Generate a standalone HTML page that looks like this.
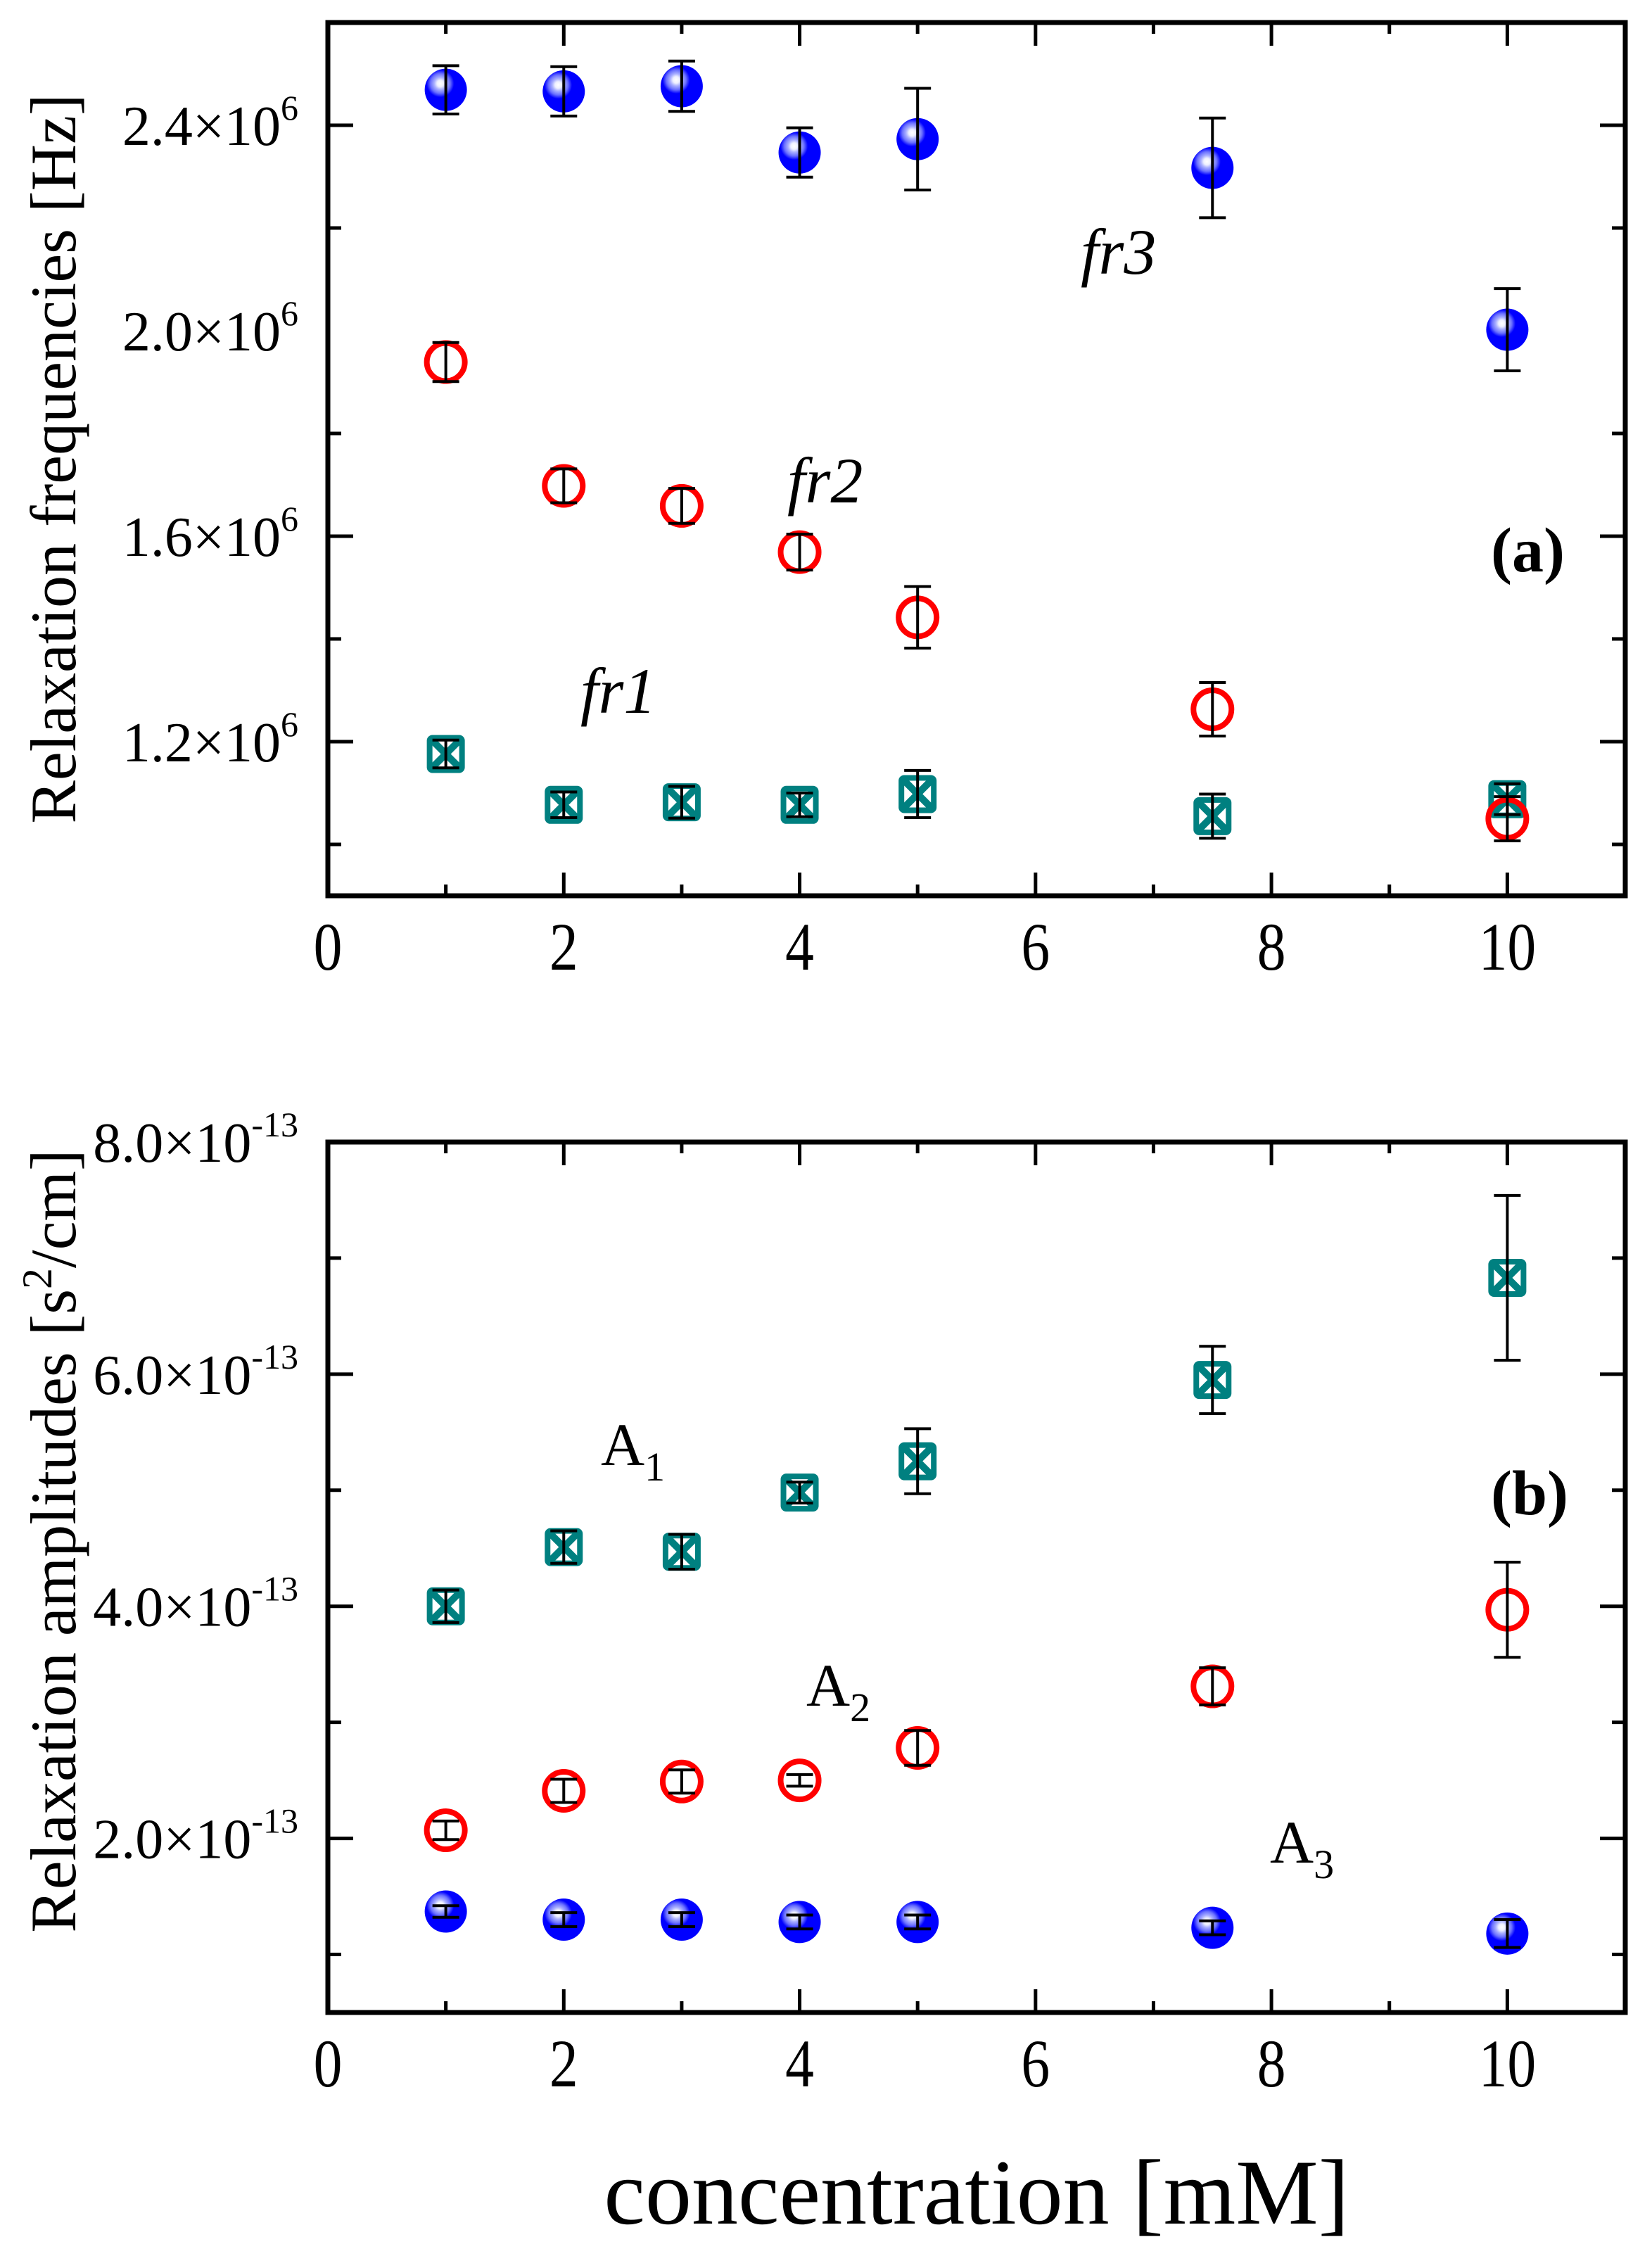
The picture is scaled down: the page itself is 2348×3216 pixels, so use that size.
<!DOCTYPE html>
<html><head><meta charset="utf-8"><style>
html,body{margin:0;padding:0;background:#fff;}
svg{display:block;font-family:"Liberation Serif",serif;}
</style></head><body>
<svg id="chart" width="2348" height="3216" viewBox="0 0 2348 3216" xmlns="http://www.w3.org/2000/svg">
<defs>
<radialGradient id="sph" cx="0.37" cy="0.35" r="0.65" fx="0.37" fy="0.35">
<stop offset="0" stop-color="#ffffff"/>
<stop offset="0.12" stop-color="#eef0ff"/>
<stop offset="0.22" stop-color="#aab0ff"/>
<stop offset="0.36" stop-color="#6a70ff"/>
<stop offset="0.5" stop-color="#0000ff"/>
<stop offset="1" stop-color="#0000ff"/>
</radialGradient>
</defs>
<g id="root"></g>
<text x="1388" y="3160" font-size="132" text-anchor="middle">concentration [mM]</text>
</svg>
<script>
const xCats = [1, 2, 3, 4, 5, 7.5, 10];
const xTicks = [0, 2, 4, 6, 8, 10];
// Panel (a): relaxation frequencies (units of 1e6 Hz)
const fr3 = [2.469, 2.466, 2.476, 2.347, 2.373, 2.317, 2.002];
const fr3Err = [0.047, 0.048, 0.049, 0.048, 0.099, 0.097, 0.080];
const fr2 = [1.939, 1.698, 1.659, 1.569, 1.442, 1.263, 1.050];
const fr2Err = [0.038, 0.033, 0.034, 0.035, 0.060, 0.052, 0.043];
const fr1 = [1.176, 1.077, 1.082, 1.077, 1.098, 1.055, 1.088];
const fr1Err = [0.027, 0.025, 0.031, 0.023, 0.046, 0.043, 0.030];
const aTicks = [1.2, 1.6, 2.0, 2.4];
const aTickLabels = ["1.2×10", "1.6×10", "2.0×10", "2.4×10"];
const aTickExp = "6";
// Panel (b): relaxation amplitudes (units of 1e-13 s^2/cm)
const A1 = [4.00, 4.51, 4.47, 4.98, 5.25, 5.95, 6.83];
const A1Err = [0.14, 0.14, 0.15, 0.09, 0.28, 0.29, 0.71];
const A2 = [2.07, 2.41, 2.49, 2.50, 2.78, 3.31, 3.97];
const A2Err = [0.08, 0.10, 0.10, 0.05, 0.15, 0.16, 0.41];
const A3 = [1.37, 1.30, 1.30, 1.28, 1.28, 1.23, 1.18];
const A3Err = [0.05, 0.06, 0.06, 0.06, 0.06, 0.06, 0.12];
const bTicks = [2, 4, 6, 8];
const bTickLabels = ["2.0×10", "4.0×10", "6.0×10", "8.0×10"];
const bTickExp = "-13";

const NS = "http://www.w3.org/2000/svg";
const root = document.getElementById('root');
function mk(tag, attrs, parent) {
  const e = document.createElementNS(NS, tag);
  for (const k in attrs) e.setAttribute(k, attrs[k]);
  (parent || root).appendChild(e);
  return e;
}
const L = 466, R = 2310;
const xMin = 0, xMax = 11;
function xs(v) { return L + (v - xMin) / (xMax - xMin) * (R - L); }

function panel(p) {
  const g = mk('g', {});
  
  
  const ys = v => p.bot - (v - p.min) / (p.max - p.min) * (p.bot - p.top);
  const fr = mk('rect', {x: L, y: p.top, width: R - L, height: p.bot - p.top, fill: 'none', stroke: '#000', 'stroke-width': 7}, g);
  
  
  for (let v = 0; v <= 11; v++) {
    const major = v % 2 === 0;
    const len = major ? 33 : 16;
    const x = xs(v);
    const t1 = mk('line', {x1: x, x2: x, y1: p.bot, y2: p.bot - len, stroke: '#000', 'stroke-width': 5}, g);
    
    
    const t2 = mk('line', {x1: x, x2: x, y1: p.top, y2: p.top + len, stroke: '#000', 'stroke-width': 5}, g);
    
    
  }
  xTicks.forEach(v => {
    const t = mk('text', {transform: `translate(${xs(v)},${p.bot + 105}) scale(0.85,1)`, 'font-size': 96, 'text-anchor': 'middle'}, g);
    
    
    t.textContent = String(v);
  });
  for (let v = p.min; v <= p.max + 1e-9; v += p.minor) {
    const vv = Math.round(v / p.minor) * p.minor;
    if (vv <= p.min + 1e-9 || vv >= p.max - 1e-9) continue;
    const major = p.ticks.some(t => Math.abs(t - vv) < 1e-6);
    const len = major ? 36 : 19;
    const y = ys(vv);
    const t1 = mk('line', {x1: L, x2: L + len, y1: y, y2: y, stroke: '#000', 'stroke-width': 5}, g);
    
    
    const t2 = mk('line', {x1: R, x2: R - len, y1: y, y2: y, stroke: '#000', 'stroke-width': 5}, g);
    
    
  }
  p.ticks.forEach((v, i) => {
    const t = mk('text', {x: 424, y: ys(v) + 28, 'font-size': 80, 'text-anchor': 'end'}, g);
    
    
    const a = mk('tspan', {}, t);
    a.textContent = p.labels[i];
    const b = mk('tspan', {dy: -36, 'font-size': 50}, t);
    b.textContent = p.exp;
  });
  const yt = mk('text', {transform: `translate(107,${p.titleY}) rotate(-90)`, 'font-size': 92, 'text-anchor': 'middle'}, g);
  
  
  p.title(yt);
  p.series.forEach(s => {
    const sg = mk('g', {}, g);
    
    
    s.vals.forEach((v, i) => {
      const cx = xs(xCats[i]), cy = ys(v);
      let m;
      if (s.kind === 'sphere') {
        m = mk('circle', {cx, cy, r: 30, fill: 'url(#sph)'}, sg);
      } else if (s.kind === 'ring') {
        m = mk('circle', {cx, cy, r: 27, fill: 'none', stroke: '#ff0000', 'stroke-width': 8}, sg);
      } else {
        m = mk('g', {}, sg);
        mk('rect', {x: cx - 23, y: cy - 23, width: 46, height: 46, rx: 4, fill: '#fff', stroke: '#008080', 'stroke-width': 8}, m);
        mk('path', {d: `M${cx-20},${cy-20}L${cx+20},${cy+20}M${cx+20},${cy-20}L${cx-20},${cy+20}`, stroke: '#008080', 'stroke-width': 10}, m);
      }
      
      
      const e = s.err[i];
      const y1 = ys(v + e), y2 = ys(v - e);
      const eb = mk('path', {d: `M${cx},${y1}L${cx},${y2}M${cx-19},${y1}L${cx+19},${y1}M${cx-19},${y2}L${cx+19},${y2}`, stroke: '#000', 'stroke-width': 4, fill: 'none'}, sg);
      
      
    });
  });
  p.annots(g);
}

function txt(g, name, x, y, size, str, extra) {
  const t = mk('text', Object.assign({x, y, 'font-size': size}, extra || {}), g);
  
  
  t.textContent = str;
  return t;
}
function sub(g, name, x, y, base, s) {
  const t = mk('text', {x, y, 'font-size': 86}, g);
  
  
  const a = mk('tspan', {}, t); a.textContent = base;
  const b = mk('tspan', {dy: 22, 'font-size': 58}, t); b.textContent = s;
}

panel({
  name: 'panel-a', top: 32, bot: 1273, min: 0.9, max: 2.6, minor: 0.2,
  ticks: aTicks, labels: aTickLabels, exp: aTickExp, titleY: 652,
  title: t => { t.textContent = 'Relaxation frequencies [Hz]'; },
  series: [
    {name: 'fr1-series', kind: 'square', vals: fr1, err: fr1Err},
    {name: 'fr2-series', kind: 'ring', vals: fr2, err: fr2Err},
    {name: 'fr3-series', kind: 'sphere', vals: fr3, err: fr3Err}
  ],
  annots: g => {
    txt(g, 'fr3-label', 1536, 389, 92, 'fr3', {'font-style': 'italic'});
    txt(g, 'fr2-label', 1119, 714, 92, 'fr2', {'font-style': 'italic'});
    txt(g, 'fr1-label', 825, 1013, 92, 'fr1', {'font-style': 'italic'});
    txt(g, 'panel-a-label', 2119, 812, 90, '(a)', {'font-weight': 'bold'});
  }
});
panel({
  name: 'panel-b', top: 1623, bot: 2860, min: 0.5, max: 8, minor: 1,
  ticks: bTicks, labels: bTickLabels, exp: bTickExp, titleY: 2190,
  title: t => {
    const a = mk('tspan', {}, t); a.textContent = 'Relaxation amplitudes [s';
    const b = mk('tspan', {dy: -34, 'font-size': 60}, t); b.textContent = '2';
    const c = mk('tspan', {dy: 34}, t); c.textContent = '/cm]';
  },
  series: [
    {name: 'a1-series', kind: 'square', vals: A1, err: A1Err},
    {name: 'a2-series', kind: 'ring', vals: A2, err: A2Err},
    {name: 'a3-series', kind: 'sphere', vals: A3, err: A3Err}
  ],
  annots: g => {
    sub(g, 'a1-label', 854, 2082, 'A', '1');
    sub(g, 'a2-label', 1146, 2424, 'A', '2');
    sub(g, 'a3-label', 1805, 2647, 'A', '3');
    txt(g, 'panel-b-label', 2119, 2152, 90, '(b)', {'font-weight': 'bold'});
  }
});
</script>
</body></html>
